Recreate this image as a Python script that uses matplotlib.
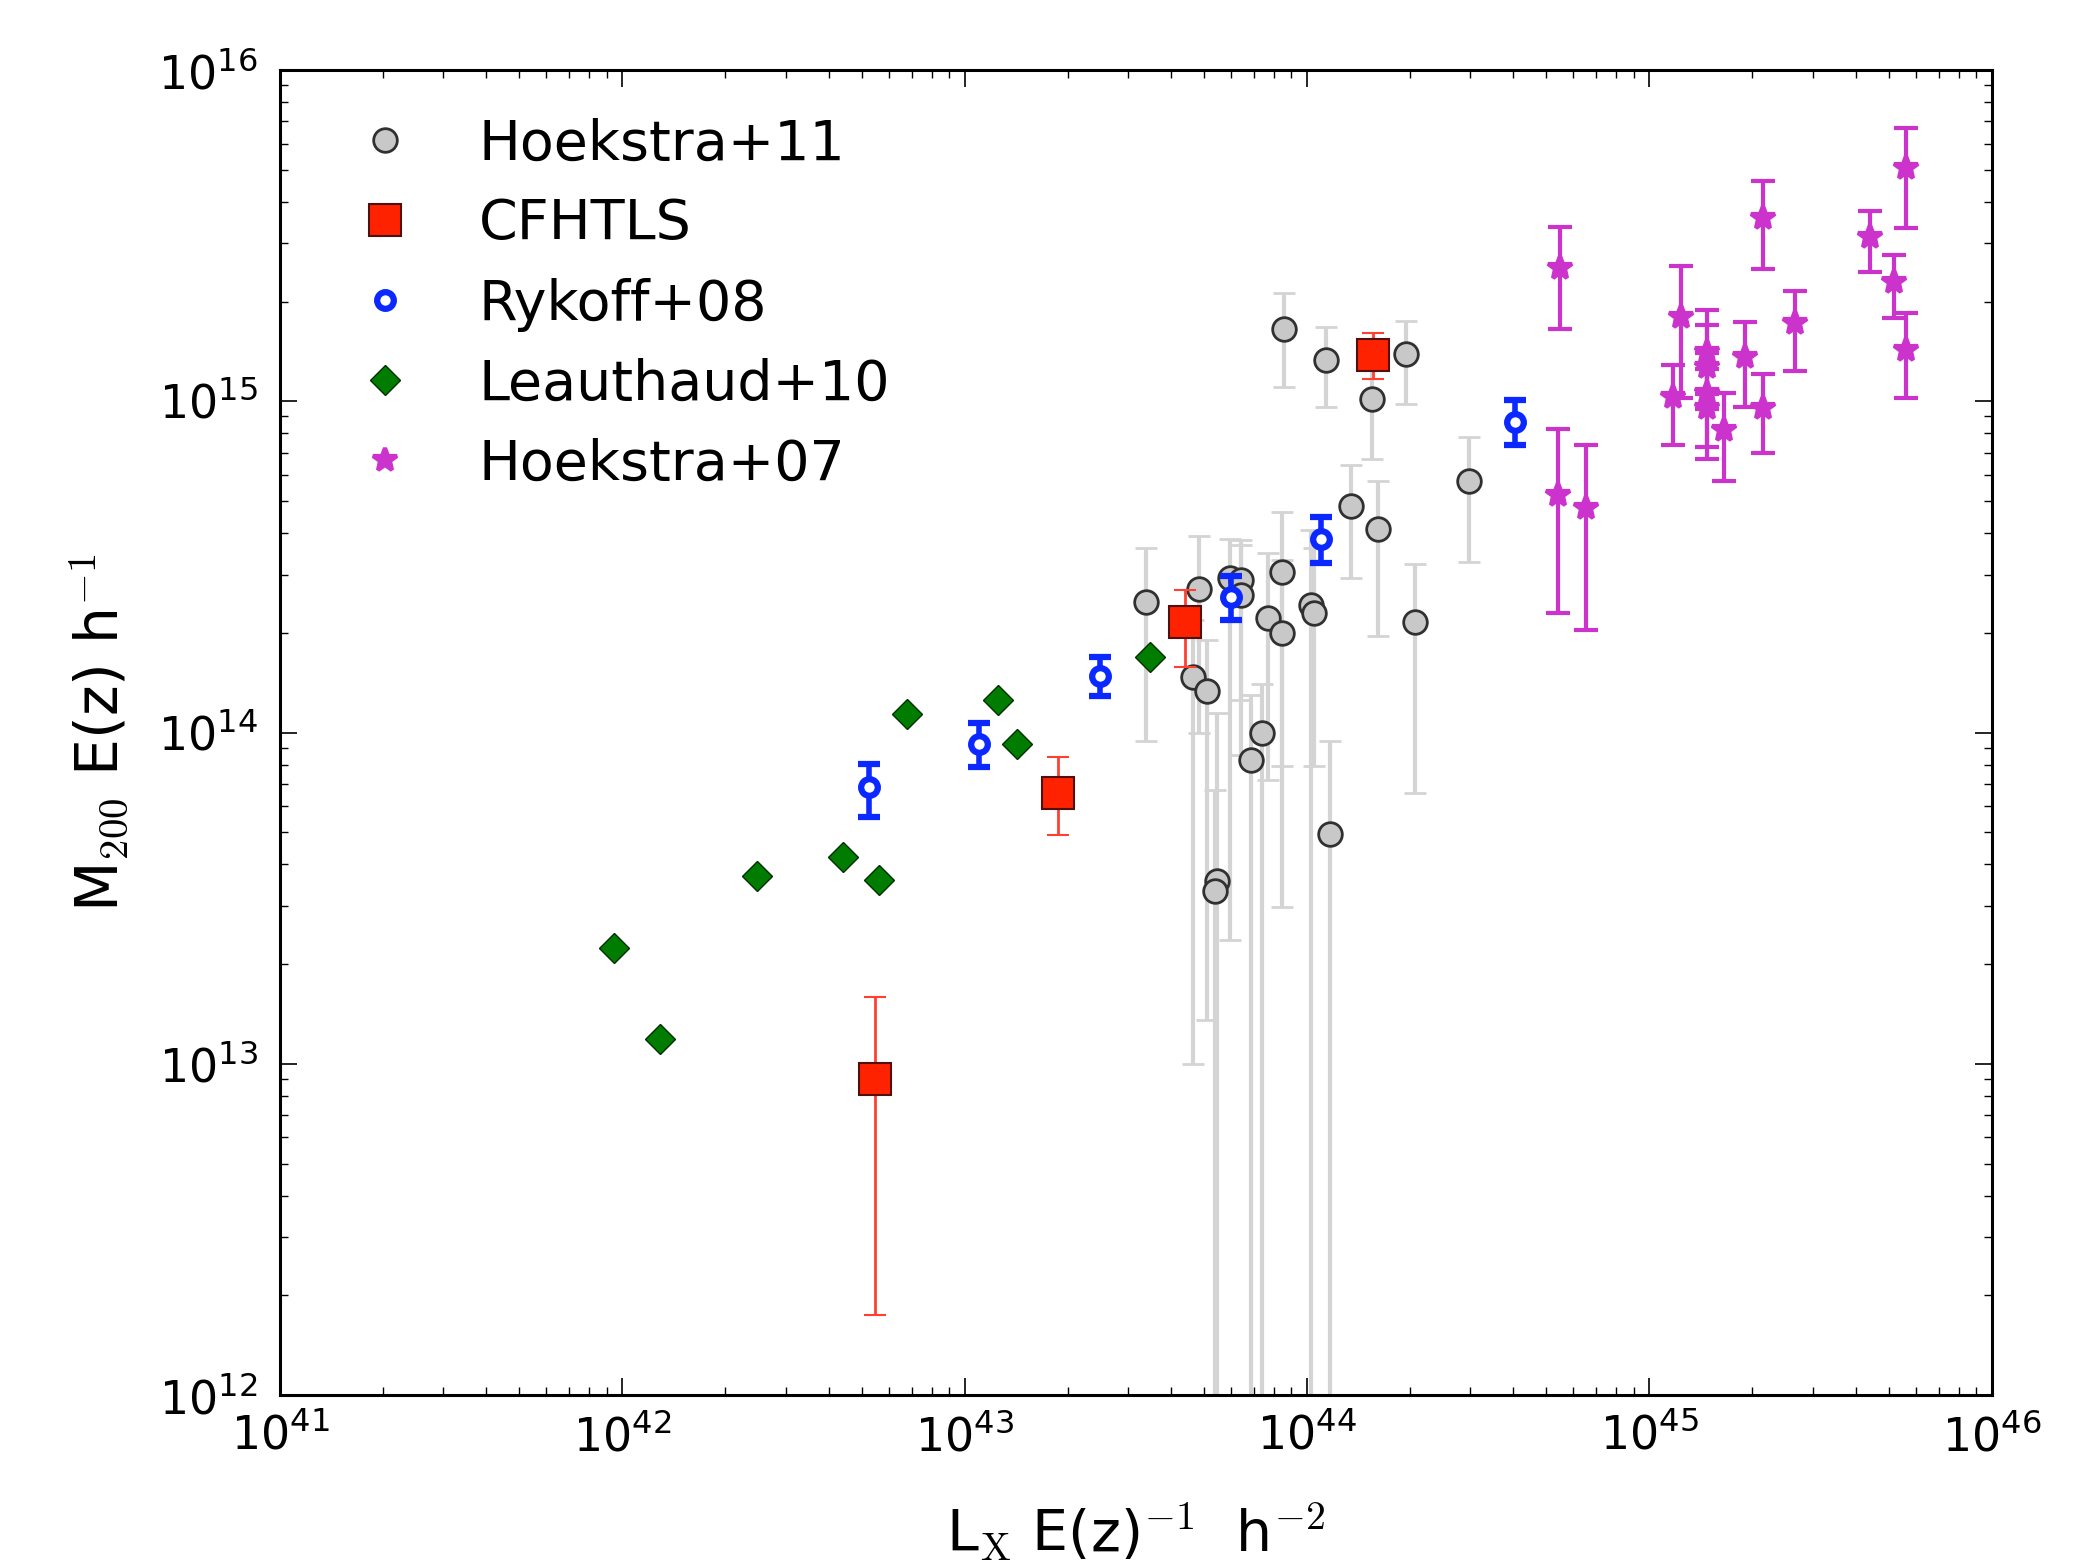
import matplotlib
matplotlib.use("Agg")
import matplotlib.pyplot as plt
from matplotlib.lines import Line2D
import numpy as np

# ---------------- data ----------------
# Hoekstra+11
h11_x = [3.38e43, 4.83e43, 4.65e43, 5.11e43, 5.95e43, 6.39e43, 6.39e43, 8.43e43, 7.67e43,
         8.43e43, 1.03e44, 1.05e44, 1.34e44, 1.61e44, 2.97e44, 2.06e44, 8.57e43, 1.135e44,
         1.94e44, 1.55e44, 7.39e43, 6.85e43, 1.17e44, 5.44e43, 5.38e43]
h11_y = [2.47e14, 2.72e14, 1.47e14, 1.334e14, 2.92e14, 2.885e14, 2.60e14, 3.06e14, 2.21e14,
         2.00e14, 2.43e14, 2.29e14, 4.83e14, 4.13e14, 5.74e14, 2.15e14, 1.65e15, 1.332e15,
         1.386e15, 1.016e15, 1.0e14, 8.26e13, 4.93e13, 3.56e13, 3.32e13]
h11_lo = [9.42e13, 9.99e13, 1.0e13, 1.36e13, 2.37e13, 1.253e14, 8.55e13, 7.94e13, 7.19e13,
          2.98e13, 1e11, 7.94e13, 2.92e14, 1.955e14, 3.28e14, 6.55e13, 1.107e15, 9.63e14,
          9.81e14, 6.68e14, 1e11, 1e11, 1e11, 1e11, 1e11]
h11_hi = [3.61e14, 3.92e14, 2.19e14, 1.90e14, 3.83e14, 3.81e14, 3.68e14, 4.64e14, 3.48e14,
          3.32e14, 4.09e14, 3.60e14, 6.42e14, 5.74e14, 7.78e14, 3.22e14, 2.12e15, 1.68e15,
          1.746e15, 1.45e15, 1.40e14, 1.30e14, 9.44e13, 1.143e14, 6.71e13]

# CFHTLS
cf_x = [5.47e42, 1.87e43, 4.40e43, 1.56e44]
cf_y = [8.97e12, 6.56e13, 2.16e14, 1.38e15]
cf_lo = [1.74e12, 4.89e13, 1.58e14, 1.17e15]
cf_hi = [1.59e13, 8.43e13, 2.70e14, 1.61e15]

# Rykoff+08
ry_x = [5.24e42, 1.10e43, 2.49e43, 6.01e43, 1.10e44, 4.06e44]
ry_y = [6.87e13, 9.25e13, 1.48e14, 2.56e14, 3.85e14, 8.69e14]
ry_lo = [5.56e13, 7.89e13, 1.29e14, 2.19e14, 3.26e14, 7.36e14]
ry_hi = [8.05e13, 1.07e14, 1.69e14, 2.97e14, 4.47e14, 1.007e15]

# Leauthaud+10
le_x = [9.42e41, 1.29e42, 2.48e42, 4.42e42, 5.62e42, 6.79e42, 1.25e43, 1.42e43, 3.48e43]
le_y = [2.24e13, 1.19e13, 3.70e13, 4.21e13, 3.60e13, 1.14e14, 1.25e14, 9.25e13, 1.69e14]

# Hoekstra+07
h07_x = [5.47e44, 5.41e44, 6.51e44, 1.24e45, 1.17e45, 1.47e45, 1.47e45, 1.47e45, 1.47e45,
         1.65e45, 1.90e45, 2.14e45, 2.14e45, 2.66e45, 4.40e45, 5.19e45, 5.60e45, 5.60e45]
h07_y = [2.52e15, 5.21e14, 4.75e14, 1.80e15, 1.032e15, 1.41e15, 1.27e15, 1.06e15, 9.55e14,
         8.19e14, 1.363e15, 9.52e14, 3.57e15, 1.72e15, 3.13e15, 2.30e15, 5.05e15, 1.428e15]
h07_lo = [1.65e15, 2.29e14, 2.04e14, 1.02e15, 7.38e14, 1.05e15, 9.5e14, 7.29e14, 6.70e14,
          5.74e14, 9.63e14, 6.96e14, 2.51e15, 1.237e15, 2.46e15, 1.78e15, 3.34e15, 1.02e15]
h07_hi = [3.35e15, 8.26e14, 7.36e14, 2.56e15, 1.29e15, 1.89e15, 1.70e15, 1.40e15, 1.25e15,
          1.057e15, 1.738e15, 1.208e15, 4.63e15, 2.16e15, 3.76e15, 2.76e15, 6.68e15, 1.85e15]

labels = ["Hoekstra+11", "CFHTLS", "Rykoff+08", "Leauthaud+10", "Hoekstra+07"]


def yerr(y, lo, hi):
    y = np.asarray(y); lo = np.asarray(lo); hi = np.asarray(hi)
    return np.vstack([y - lo, hi - y])


# ---------------- figure ----------------
plt.rcParams['font.family'] = ['DejaVu Sans']
plt.rcParams['xtick.direction'] = 'in'
plt.rcParams['ytick.direction'] = 'in'

fig = plt.figure(figsize=(20.9, 15.61), dpi=100)
ax = fig.add_axes([0.134, 0.1063, 0.819, 0.8488])
ax.set_xscale('log')
ax.set_yscale('log')

c_h11_face = '#c8c8c8'
c_h11_err = '#d4d4d4'
c_cf = '#ff2200'
c_ry = '#0a28ff'
c_le = '#007d00'
c_h07 = '#cc33cc'

st_h11 = dict(marker='o', ms=17, mfc=c_h11_face, mec='#303030', mew=2.0)
st_cf = dict(marker='s', ms=23, mfc=c_cf, mec='#501010', mew=1.5)
st_ry = dict(marker='o', ms=12, mfc='white', mec=c_ry, mew=4.5)
st_le = dict(marker='D', ms=15, mfc=c_le, mec='#003000', mew=1.0)
st_h07 = dict(marker='*', ms=18, mfc=c_h07, mec=c_h07, mew=3.0)

ax.errorbar(h11_x, h11_y, yerr=yerr(h11_y, h11_lo, h11_hi), ls='none', **st_h11,
            ecolor=c_h11_err, elinewidth=3.0, capsize=8, capthick=2.0, zorder=2)
ax.errorbar(cf_x, cf_y, yerr=yerr(cf_y, cf_lo, cf_hi), ls='none', **st_cf,
            ecolor='#ff4030', elinewidth=2.0, capsize=8, capthick=2.0, zorder=3)
ax.errorbar(ry_x, ry_y, yerr=yerr(ry_y, ry_lo, ry_hi), ls='none', **st_ry,
            ecolor=c_ry, elinewidth=4.0, capsize=8, capthick=5.0, zorder=4)
ax.plot(le_x, le_y, ls='none', zorder=4, **st_le)
ax.errorbar(h07_x, h07_y, yerr=yerr(h07_y, h07_lo, h07_hi), ls='none', **st_h07,
            ecolor=c_h07, elinewidth=3.0, capsize=8.5, capthick=5.5, zorder=4)

ax.set_xlim(1e41, 1e46)
ax.set_ylim(1e12, 1e16)

# ticks
ax.tick_params(which='both', top=True, right=True, direction='in', labelsize=33)
ax.tick_params(which='major', length=12, width=1.2)
ax.tick_params(which='minor', length=6, width=1.0)
ax.tick_params(axis='x', which='major', pad=14)
ax.tick_params(axis='y', which='major', pad=16)
for sp in ax.spines.values():
    sp.set_linewidth(2.2)

ax.set_xlabel(r'L$_{\rm X}$ E(z)$^{-1}$  h$^{-2}$', fontsize=41,
              math_fontfamily='cm', labelpad=29)
ax.set_ylabel(r'M$_{200}$ E(z) h$^{-1}$', fontsize=42,
              math_fontfamily='cm', labelpad=20)

handles = [Line2D([], [], ls='none', **s) for s in (st_h11, st_cf, st_ry, st_le, st_h07)]
ax.legend(handles, labels, loc='upper left', frameon=False, fontsize=40,
          numpoints=1, handlelength=2.07, handletextpad=0.65, labelspacing=0.47,
          borderaxespad=0.45)

fig.savefig('out.png', dpi=100, facecolor='white')
